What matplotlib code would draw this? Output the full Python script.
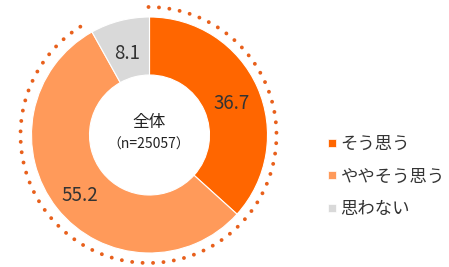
import numpy as np
import matplotlib
matplotlib.use("Agg")
import matplotlib.pyplot as plt
from matplotlib.lines import Line2D

plt.rcParams['font.family'] = ['Noto Sans CJK JP', 'DejaVu Sans']

categories = ["そう思う", "ややそう思う", "思わない"]
values = [36.7, 55.2, 8.1]
colors = ["#FF6600", "#FF9A5A", "#D9D9D9"]
center_title = "全体"
center_sub = "（n=25057）"

fig = plt.figure(figsize=(4.49, 2.67), dpi=100)
ax = fig.add_axes([0, 0, 1, 1])

cx, cy, R = 149.5, 132, 118
wedges, texts = ax.pie(values, colors=colors, startangle=90, counterclock=False,
                       center=(cx, cy), radius=R, labels=[f"{v:.1f}" for v in values],
                       labeldistance=0.76,
                       wedgeprops=dict(width=58, edgecolor='white', linewidth=0.8),
                       textprops=dict(fontsize=13.5, color='#333333', ha='center', va='center'),
                       frame=True)
for t in texts:
    x, y = t.get_position()
    t.set_position((x, y - 5))
    t.set_ha('center')
    t.set_va('center')
ax.set_xlim(0, 449)
ax.set_ylim(0, 267)
ax.set_aspect('equal')
ax.axis('off')

# dotted arc around the agreeing share
agree = values[0] + values[1]
theta = np.linspace(np.deg2rad(90), np.deg2rad(90 - 360 * agree / 100), 400)
Rd = 128
ax.plot(cx - 1 + Rd * np.cos(theta), cy + Rd * np.sin(theta), color='#E8601C',
        linewidth=2.8, linestyle=(0, (0.01, 2.68)), dash_capstyle='round')

ax.text(cx, cy + 13, center_title, ha='center', va='center', fontsize=12, color='#222222')
ax.text(cx - 1, cy - 10, center_sub, ha='center', va='center', fontsize=10, color='#222222')

handles = [Line2D([], [], marker='s', linestyle='none', markersize=5.5,
                  markerfacecolor=c, markeredgecolor='white', markeredgewidth=0.5) for c in colors]
leg = ax.legend(handles, categories, loc='upper left', bbox_to_anchor=(318 / 449, 1 - 126 / 267),
                frameon=False, fontsize=12.5, handlelength=0.6, handletextpad=0.2,
                labelspacing=0.85, borderpad=0)
for t in leg.get_texts():
    t.set_color('#333333')

fig.savefig('out.png', dpi=100)
